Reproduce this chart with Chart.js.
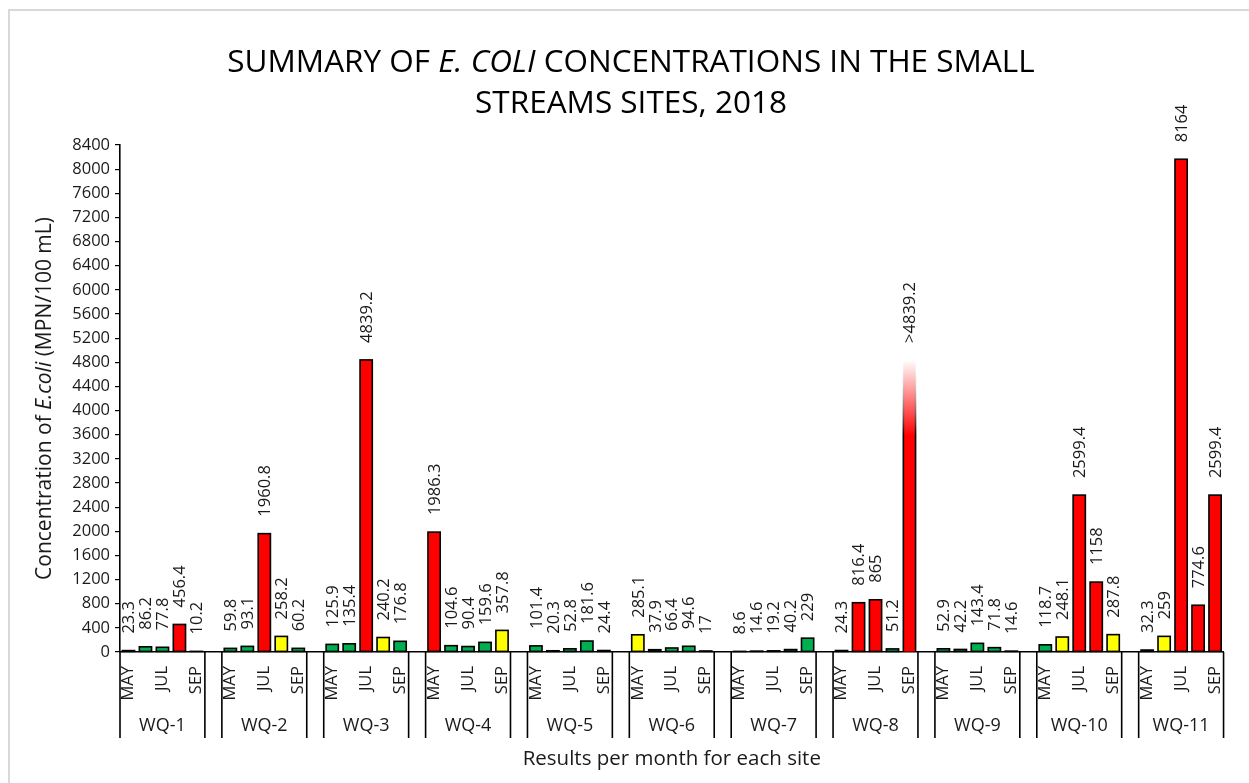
<!DOCTYPE html>
<html>
<head>
<meta charset="utf-8">
<script src="https://cdn.jsdelivr.net/npm/chart.js@4.4.1/dist/chart.umd.min.js"></script>
<style>
  html, body { margin: 0; padding: 0; background: #fff; overflow: hidden; }
  canvas { display: block; }
</style>
</head>
<body>
<canvas id="chart" width="1249" height="783"></canvas>
<script>
// sites and months
const sites = ['WQ-1', 'WQ-2', 'WQ-3', 'WQ-4', 'WQ-5', 'WQ-6', 'WQ-7', 'WQ-8', 'WQ-9', 'WQ-10', 'WQ-11'];
const months = ['MAY', 'JUN', 'JUL', 'AUG', 'SEP'];

// E. coli results, MPN/100 mL, May..Sep
const wq1 = [23.3, 86.2, 77.8, 456.4, 10.2];
const wq2 = [59.8, 93.1, 1960.8, 258.2, 60.2];
const wq3 = [125.9, 135.4, 4839.2, 240.2, 176.8];
const wq4 = [1986.3, 104.6, 90.4, 159.6, 357.8];
const wq5 = [101.4, 20.3, 52.8, 181.6, 24.4];
const wq6 = [285.1, 37.9, 66.4, 94.6, 17];
const wq7 = [8.6, 14.6, 19.2, 40.2, 229];
const wq8 = [24.3, 816.4, 865, 51.2, 4839.2];
const wq9 = [52.9, 42.2, 143.4, 71.8, 14.6];
const wq10 = [118.7, 248.1, 2599.4, 1158, 287.8];
const wq11 = [32.3, 259, 8164, 774.6, 2599.4];
const siteValues = [wq1, wq2, wq3, wq4, wq5, wq6, wq7, wq8, wq9, wq10, wq11];

// results above the test's upper limit (shown as ">")
const aboveLimit = ['WQ-8|SEP'];

const yMax = 8400;
const yStep = 400;

// flatten with one empty slot between sites (like the spreadsheet)
const labels = [];
const values = [];
sites.forEach((s, i) => {
  months.forEach((m, j) => {
    labels.push(s + '|' + m);
    values.push(siteValues[i][j]);
  });
  if (i < sites.length - 1) {
    labels.push('');
    values.push(null);
  }
});

const isAbove = i => aboveLimit.includes(labels[i]);

function barColor(v) {
  if (v >= 410) return '#FF0000';
  if (v >= 235) return '#FFFF00';
  return '#00B050';
}

const FONT = "'Open Sans', sans-serif";
const TEXT = '#1a1a1a';

function fadeGradient(chart, v, c1, c2) {
  const y = chart.scales.y;
  const g = chart.ctx.createLinearGradient(0, y.getPixelForValue(0), 0, y.getPixelForValue(v));
  g.addColorStop(0, c1);
  g.addColorStop(0.74, c1);
  g.addColorStop(1, c2);
  return g;
}

// outlines + value labels
const barDecor = {
  id: 'barDecor',
  afterDatasetsDraw(chart) {
    const c = chart.ctx;
    chart.getDatasetMeta(0).data.forEach((bar, i) => {
      const v = values[i];
      if (v == null) return;
      const { x, y, base, width } = bar.getProps(['x', 'y', 'base', 'width'], true);
      const l = x - width / 2, r = x + width / 2;
      c.save();
      c.lineWidth = 1.6;
      if (isAbove(i)) {
        c.strokeStyle = fadeGradient(chart, v, '#000', 'rgba(255,255,255,0)');
        c.beginPath();
        c.moveTo(l, base); c.lineTo(l, y);
        c.moveTo(r, base); c.lineTo(r, y);
        c.stroke();
      } else {
        c.strokeStyle = '#000';
        c.strokeRect(l, y, width, base - y);
      }
      // label
      c.translate(x + 1, y - 17);
      c.rotate(-Math.PI / 2);
      c.font = '16.5px ' + FONT;
      c.fillStyle = TEXT;
      c.textAlign = 'left';
      c.textBaseline = 'middle';
      c.fillText((isAbove(i) ? '>' : '') + v, 0, 0);
      c.restore();
    });
  }
};

// titles, site groups, frame
const decor = {
  id: 'decor',
  afterDraw(chart) {
    const c = chart.ctx;
    const area = chart.chartArea;
    const xs = chart.scales.x;
    c.save();

    // frame
    c.strokeStyle = '#d9d9d9';
    c.lineWidth = 2;
    c.beginPath();
    c.moveTo(9, 790); c.lineTo(9, 10); c.lineTo(1260, 10);
    c.stroke();

    // title with italic part
    const parts1 = [['SUMMARY OF ', ''], ['E. COLI', 'italic '], [' CONCENTRATIONS IN THE SMALL', '']];
    const tSize = 31.5;
    const cx = 631;
    let total = 0;
    parts1.forEach(p => { c.font = p[1] + tSize + 'px ' + FONT; total += c.measureText(p[0]).width; });
    let tx = cx - total / 2;
    c.fillStyle = '#000';
    c.textBaseline = 'middle';
    c.textAlign = 'left';
    parts1.forEach(p => {
      c.font = p[1] + tSize + 'px ' + FONT;
      c.fillText(p[0], tx, 63);
      tx += c.measureText(p[0]).width;
    });
    c.font = tSize + 'px ' + FONT;
    c.textAlign = 'center';
    c.fillText('STREAMS SITES, 2018', cx, 104);

    // y axis title
    const yParts = [['Concentration of ', ''], ['E.coli', 'italic '], [' (MPN/100 mL)', '']];
    const ySize = 21;
    total = 0;
    yParts.forEach(p => { c.font = p[1] + ySize + 'px ' + FONT; total += c.measureText(p[0]).width; });
    c.save();
    c.translate(45, (area.top + area.bottom) / 2);
    c.rotate(-Math.PI / 2);
    c.textAlign = 'left';
    c.fillStyle = TEXT;
    let px = -total / 2;
    yParts.forEach(p => {
      c.font = p[1] + ySize + 'px ' + FONT;
      c.fillText(p[0], px, 0);
      px += c.measureText(p[0]).width;
    });
    c.restore();

    // site group dividers and names
    const w = xs.getPixelForValue(1) - xs.getPixelForValue(0);
    const lineBottom = area.bottom + 86;
    c.strokeStyle = '#000';
    c.lineWidth = 1.6;
    c.fillStyle = TEXT;
    c.font = '18px ' + FONT;
    c.textAlign = 'center';
    sites.forEach((s, i) => {
      const first = i * (months.length + 1);
      const last = first + months.length - 1;
      const left = xs.getPixelForValue(first) - w / 2;
      const right = xs.getPixelForValue(last) + w / 2;
      c.beginPath();
      c.moveTo(left, area.bottom); c.lineTo(left, lineBottom);
      c.moveTo(right, area.bottom); c.lineTo(right, lineBottom);
      c.stroke();
      c.fillText(s, (left + right) / 2, area.bottom + 74);
    });

    // x axis title
    c.font = '20.5px ' + FONT;
    c.fillText('Results per month for each site', (area.left + area.right) / 2, 759);
    c.restore();
  }
};

new Chart(document.getElementById('chart'), {
  type: 'bar',
  data: {
    labels: labels,
    datasets: [{
      data: values,
      borderWidth: 0,
      barPercentage: 0.72,
      categoryPercentage: 1,
      backgroundColor: ctx => {
        const v = values[ctx.dataIndex];
        if (v == null) return 'transparent';
        if (isAbove(ctx.dataIndex) && ctx.chart.scales.y) {
          return fadeGradient(ctx.chart, v, '#FF0000', '#FFFFFF');
        }
        return barColor(v);
      }
    }]
  },
  options: {
    responsive: false,
    animation: false,
    layout: { padding: { top: 145, right: 18, bottom: 0, left: 0 } },
    plugins: {
      legend: { display: false },
      title: { display: false },
      tooltip: { enabled: false }
    },
    scales: {
      x: {
        offset: true,
        grid: { display: false, drawTicks: false },
        border: { display: true, color: '#000', width: 1.6 },
        afterFit: scale => { scale.height = 131; },
        ticks: {
          autoSkip: false,
          maxRotation: 90,
          minRotation: 90,
          padding: 14,
          color: TEXT,
          font: { family: FONT, size: 16.5 },
          callback: function (val, idx) {
            const lab = labels[idx];
            if (!lab) return '';
            const m = lab.split('|')[1];
            return months.indexOf(m) % 2 === 0 ? m : '';
          }
        }
      },
      y: {
        min: 0,
        max: yMax,
        afterFit: scale => { scale.width = 120; },
        grid: { drawOnChartArea: false, drawTicks: true, tickLength: 5, color: '#000', lineWidth: 1.2 },
        border: { display: true, color: '#000', width: 1.6 },
        ticks: {
          stepSize: yStep,
          padding: 5,
          color: TEXT,
          font: { family: FONT, size: 16.5 },
          callback: v => String(v)
        }
      }
    }
  },
  plugins: [barDecor, decor]
});
</script>
</body>
</html>
